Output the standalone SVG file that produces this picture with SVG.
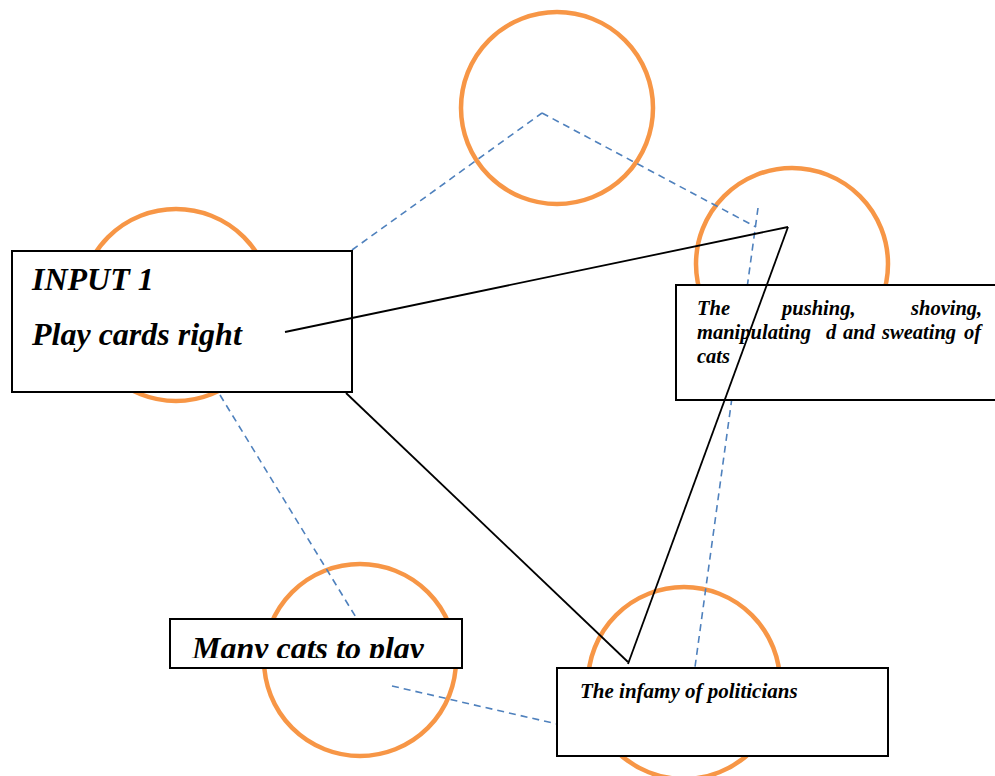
<svg xmlns="http://www.w3.org/2000/svg" width="995" height="776" viewBox="0 0 995 776">
<style>
.circ{fill:none;stroke:#F79646;stroke-width:4.5}
.dash{fill:none;stroke:#4F81BD;stroke-width:1.6;stroke-dasharray:7,5}
.solid{fill:none;stroke:#000;stroke-width:1.8}
.box{fill:#fff;stroke:#000;stroke-width:2}
.t{font-family:"Liberation Serif","Times New Roman",serif;font-weight:bold;font-style:italic;fill:#000}
</style>
<defs>
<clipPath id="clipMany"><rect x="171" y="620" width="290" height="38"/></clipPath>
</defs>
<rect width="995" height="776" fill="#fff"/>
<g id="circles">
<circle id="c-top" class="circ" cx="557" cy="108" r="96"/>
<circle id="c-left" class="circ" cx="176" cy="305" r="96"/>
<circle id="c-right" class="circ" cx="792" cy="264" r="96"/>
<circle id="c-botleft" class="circ" cx="360" cy="660" r="96"/>
<circle id="c-botright" class="circ" cx="684" cy="683" r="96"/>
</g>
<g id="dashed-connectors">
<line class="dash" x1="352" y1="250" x2="542" y2="113"/>
<line class="dash" x1="542" y1="113" x2="756" y2="227"/>
<line class="dash" x1="758" y1="208" x2="695" y2="667"/>
<line class="dash" x1="220" y1="395" x2="357" y2="619"/>
<line class="dash" x1="392" y1="686" x2="557" y2="724"/>
</g>
<g id="node-input1">
<rect class="box" x="12" y="251" width="340" height="141"/>
<text class="t" x="32" y="290" font-size="32">INPUT 1</text>
<text class="t" x="32" y="345" font-size="32">Play cards right</text>
</g>
<g id="node-pushing">
<rect class="box" x="676" y="285" width="330" height="115"/>
<text class="t" font-size="20.5" y="315"><tspan x="697">The</tspan><tspan x="782">pushing,</tspan><tspan x="911">shoving,</tspan></text>
<text class="t" font-size="20.5" y="339"><tspan x="697">manipulating</tspan><tspan x="826">d</tspan><tspan x="843">and</tspan><tspan x="882">sweating</tspan><tspan x="964">of</tspan></text>
<text class="t" font-size="20.5" y="363" x="697">cats</text>
</g>
<g id="node-many">
<rect class="box" x="170" y="619" width="292" height="49"/>
<text class="t" x="192" y="659" font-size="32" clip-path="url(#clipMany)">Many cats to play</text>
</g>
<g id="node-infamy">
<rect class="box" x="557" y="668" width="331" height="88"/>
<text class="t" x="580" y="698" font-size="21">The infamy of politicians</text>
</g>
<g id="solid-connectors">
<line class="solid" x1="285" y1="332" x2="788" y2="227"/>
<line class="solid" x1="788" y1="227" x2="628" y2="664"/>
<line class="solid" x1="346" y1="393" x2="628" y2="662"/>
</g>
</svg>
